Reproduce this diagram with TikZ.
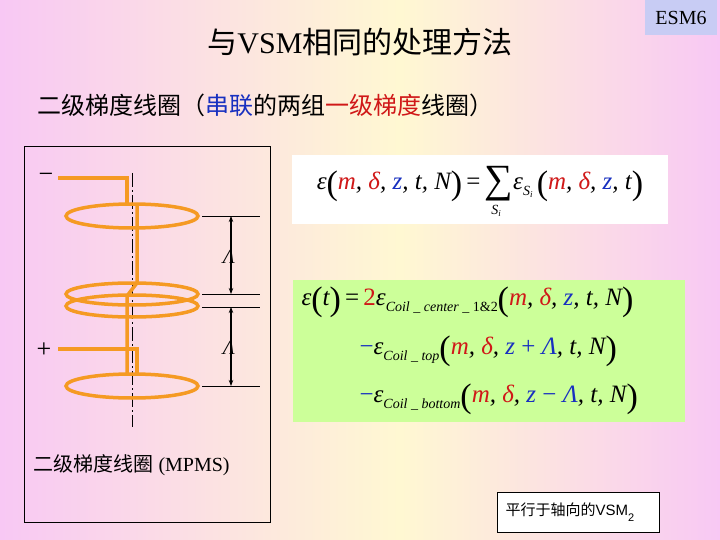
\documentclass[tikz,border=0pt]{standalone}
\usepackage{fontspec}
\setmainfont{Liberation Serif}
\newfontfamily\cjk{Noto Sans CJK SC}
\newfontfamily\sansf{Liberation Sans}
\usetikzlibrary{arrows.meta}
\definecolor{pinkbg}{HTML}{F8C8F4}
\definecolor{creambg}{HTML}{FFF8D2}
\definecolor{coil}{HTML}{F59A23}
\definecolor{greenbox}{HTML}{CCFF99}
\definecolor{esmbox}{HTML}{C8CCF4}
\definecolor{mred}{HTML}{D01818}
\definecolor{mblue}{HTML}{1830C0}
\newcommand{\R}[1]{\textcolor{mred}{#1}}
\newcommand{\B}[1]{\textcolor{mblue}{#1}}
\newcommand{\LP}{\raisebox{-5pt}{\fontsize{34}{34}\selectfont\upshape (}}
\newcommand{\RP}{\raisebox{-5pt}{\fontsize{34}{34}\selectfont\upshape )}}
\newcommand{\sub}[1]{\raisebox{-6pt}{\fontsize{14}{14}\selectfont #1}}
\begin{document}
\begin{tikzpicture}[x=1pt,y=-1pt,
  coilline/.style={draw=coil,line width=3.5pt},
  dimline/.style={draw=black,line width=0.6pt},
  dimarrow/.style={draw=black,line width=1.2pt,{Stealth[length=6pt]}-{Stealth[length=6pt]}},
  axisline/.style={draw=black,line width=1pt,dash pattern=on 14pt off 3pt on 2pt off 3pt}]
\useasboundingbox (0,0) rectangle (720,540);
\shade[left color=pinkbg,right color=creambg] (0,0) rectangle (400,540);
\shade[left color=creambg,right color=pinkbg] (400,0) rectangle (720,540);
% title
\node (title) at (360,42) {\cjk\fontsize{30}{34}\selectfont 与\rmfamily VSM\cjk 相同的处理方法};
\node[fill=esmbox,minimum width=72pt,minimum height=35pt,inner sep=0pt] (esm) at (681,17.5) {\fontsize{20}{24}\selectfont ESM6};
\node[anchor=west] (sub) at (34,105) {\cjk\fontsize{24}{28}\selectfont 二级梯度线圈（\B{串联}的两组\R{一级梯度}线圈）};
% coil box
\draw[line width=0.8pt] (24,146) rectangle (270,522);
\node[anchor=west] (cap) at (30,465) {\fontsize{20}{24}\selectfont{\cjk 二级梯度线圈} (MPMS)};
% axis
\draw[axisline] (132,173) -- (132,427);
% coils
\draw[coilline] (132,216) ellipse (66 and 12);
\draw[coilline] (132,294) ellipse (66 and 11);
\draw[coilline] (132,306) ellipse (66 and 11);
\draw[coilline] (132,386) ellipse (66 and 12);
\draw[coilline,line join=miter] (58,178) -- (127,178) -- (127,204);
\draw[coilline] (137,204) -- (137,283) -- (130,292) -- (127,296) -- (127,375);
\draw[coilline,line join=miter] (58,349) -- (137,349) -- (137,375);
\node (minus) at (46,178) {\fontsize{26}{28}\selectfont −};
\node (plus) at (44,350) {\fontsize{26}{28}\selectfont +};
% dimensions
\draw[dimline] (202,216) -- (260,216);
\draw[dimline] (202,294) -- (260,294);
\draw[dimline] (202,307) -- (260,307);
\draw[dimline] (202,386) -- (260,386);
\coordinate (a1) at (231,216); \coordinate (a2) at (231,294);
\coordinate (b1) at (231,307); \coordinate (b2) at (231,386);
\draw[dimarrow] (a1) -- (a2);
\draw[dimarrow] (b1) -- (b2);
\node (L1) at (229,257) {\fontsize{20}{20}\selectfont\itshape Λ};
\node (L2) at (229,348) {\fontsize{20}{20}\selectfont\itshape Λ};
% formula 1
\node[fill=white,minimum width=376pt,minimum height=69pt,inner sep=0pt] (f1) at (480,189.5) {};
\node (f1t) at (480,184) {\fontsize{25}{28}\selectfont\itshape ε\LP\R{m}, \R{δ}, \B{z}, t, N\RP{\upshape\,=\,}\raisebox{-3pt}{\fontsize{40}{40}\selectfont\upshape ∑}ε\sub{S\raisebox{-2pt}{\fontsize{9}{9}\selectfont i}}\,\LP\R{m}, \R{δ}, \B{z}, t\RP};
\node (f1s) at (496,211) {\fontsize{14}{14}\selectfont\itshape S\raisebox{-2pt}{\fontsize{9}{9}\selectfont i}};
% formula 2
\node[fill=greenbox,minimum width=392pt,minimum height=142pt,inner sep=0pt] (f2) at (489,351) {};
\node[anchor=west] (f2a) at (298,302) {\fontsize{25}{28}\selectfont\itshape ε\LP t\RP{\upshape\,=\,}\R{\upshape 2}ε\sub{Coil \_ center \_ {\upshape 1\&2}}\LP\R{m}, \R{δ}, \B{z}, t, N\RP};
\node[anchor=west] (f2b) at (356,351) {\fontsize{25}{28}\selectfont\itshape \B{\upshape −}ε\sub{Coil \_ top}\LP\R{m}, \R{δ}, \B{z{\upshape{} + }Λ}, t, N\RP};
\node[anchor=west] (f2c) at (356,399) {\fontsize{25}{28}\selectfont\itshape \B{\upshape −}ε\sub{Coil \_ bottom}\LP\R{m}, \R{δ}, \B{z{\upshape{} − }Λ}, t, N\RP};
% small box
\node[draw=black,fill=white,line width=0.6pt,minimum width=162pt,minimum height=40pt,inner sep=0pt] (vsm) at (578,512) {};
\node[anchor=west] (vsmt) at (502,512) {\cjk\fontsize{15}{18}\selectfont 平行于轴向的\sansf VSM\raisebox{-6pt}{\fontsize{11}{12}\selectfont 2}};
\end{tikzpicture}
\end{document}
